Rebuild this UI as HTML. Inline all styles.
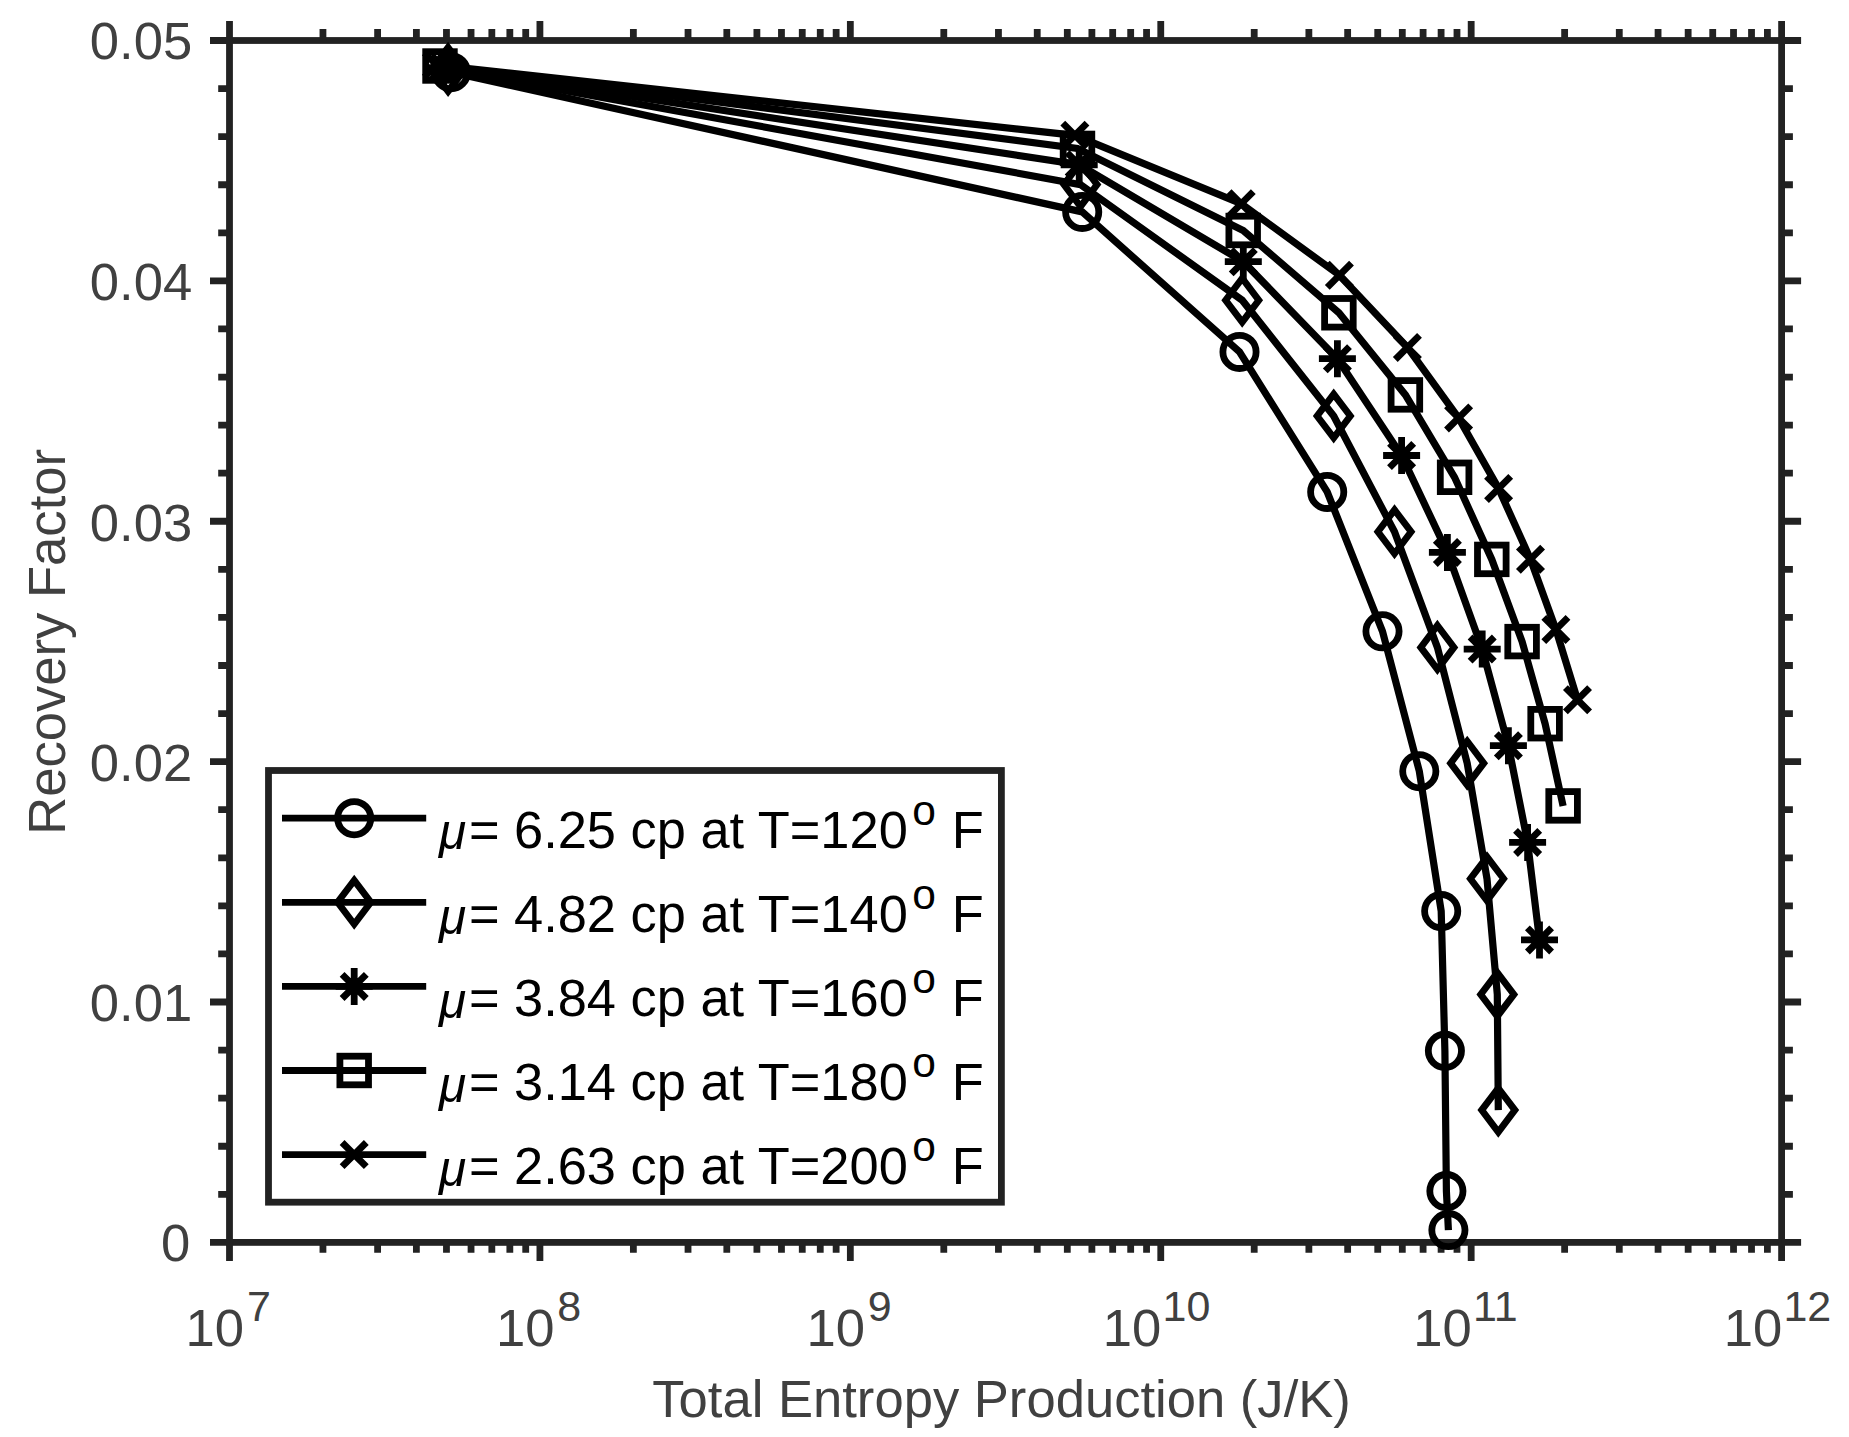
<!DOCTYPE html>
<html lang="en"><head><meta charset="utf-8"><title>Recovery Factor vs Total Entropy Production</title>
<style>html,body{margin:0;padding:0;background:#fff;}svg{display:block;}text{font-family:"Liberation Sans",sans-serif;}</style></head><body>
<svg width="1849" height="1437" viewBox="0 0 1849 1437">
<rect x="0" y="0" width="1849" height="1437" fill="#ffffff"/>
<g stroke="#222222" stroke-width="6.8" fill="none" stroke-linecap="butt">
<rect x="229.5" y="40.5" width="1552.10" height="1201.90"/>
<path d="M229.50 1242.4V1260.90M229.50 40.5V21.00M322.95 1242.4V1252.80M322.95 40.5V29.00M377.61 1242.4V1252.80M377.61 40.5V29.00M416.39 1242.4V1252.80M416.39 40.5V29.00M446.47 1242.4V1252.80M446.47 40.5V29.00M471.05 1242.4V1252.80M471.05 40.5V29.00M491.84 1242.4V1252.80M491.84 40.5V29.00M509.84 1242.4V1252.80M509.84 40.5V29.00M525.72 1242.4V1252.80M525.72 40.5V29.00M539.92 1242.4V1260.90M539.92 40.5V21.00M633.37 1242.4V1252.80M633.37 40.5V29.00M688.03 1242.4V1252.80M688.03 40.5V29.00M726.81 1242.4V1252.80M726.81 40.5V29.00M756.89 1242.4V1252.80M756.89 40.5V29.00M781.47 1242.4V1252.80M781.47 40.5V29.00M802.26 1242.4V1252.80M802.26 40.5V29.00M820.26 1242.4V1252.80M820.26 40.5V29.00M836.14 1242.4V1252.80M836.14 40.5V29.00M850.34 1242.4V1260.90M850.34 40.5V21.00M943.79 1242.4V1252.80M943.79 40.5V29.00M998.45 1242.4V1252.80M998.45 40.5V29.00M1037.23 1242.4V1252.80M1037.23 40.5V29.00M1067.31 1242.4V1252.80M1067.31 40.5V29.00M1091.89 1242.4V1252.80M1091.89 40.5V29.00M1112.68 1242.4V1252.80M1112.68 40.5V29.00M1130.68 1242.4V1252.80M1130.68 40.5V29.00M1146.56 1242.4V1252.80M1146.56 40.5V29.00M1160.76 1242.4V1260.90M1160.76 40.5V21.00M1254.21 1242.4V1252.80M1254.21 40.5V29.00M1308.87 1242.4V1252.80M1308.87 40.5V29.00M1347.65 1242.4V1252.80M1347.65 40.5V29.00M1377.73 1242.4V1252.80M1377.73 40.5V29.00M1402.31 1242.4V1252.80M1402.31 40.5V29.00M1423.10 1242.4V1252.80M1423.10 40.5V29.00M1441.10 1242.4V1252.80M1441.10 40.5V29.00M1456.98 1242.4V1252.80M1456.98 40.5V29.00M1471.18 1242.4V1260.90M1471.18 40.5V21.00M1564.63 1242.4V1252.80M1564.63 40.5V29.00M1619.29 1242.4V1252.80M1619.29 40.5V29.00M1658.07 1242.4V1252.80M1658.07 40.5V29.00M1688.15 1242.4V1252.80M1688.15 40.5V29.00M1712.73 1242.4V1252.80M1712.73 40.5V29.00M1733.52 1242.4V1252.80M1733.52 40.5V29.00M1751.52 1242.4V1252.80M1751.52 40.5V29.00M1767.40 1242.4V1252.80M1767.40 40.5V29.00M1781.60 1242.4V1260.90M1781.60 40.5V21.00M229.5 1242.40H210.00M1781.6 1242.40H1801.10M229.5 1194.32H218.20M1781.6 1194.32H1792.90M229.5 1146.25H218.20M1781.6 1146.25H1792.90M229.5 1098.17H218.20M1781.6 1098.17H1792.90M229.5 1050.10H218.20M1781.6 1050.10H1792.90M229.5 1002.02H210.00M1781.6 1002.02H1801.10M229.5 953.94H218.20M1781.6 953.94H1792.90M229.5 905.87H218.20M1781.6 905.87H1792.90M229.5 857.79H218.20M1781.6 857.79H1792.90M229.5 809.72H218.20M1781.6 809.72H1792.90M229.5 761.64H210.00M1781.6 761.64H1801.10M229.5 713.56H218.20M1781.6 713.56H1792.90M229.5 665.49H218.20M1781.6 665.49H1792.90M229.5 617.41H218.20M1781.6 617.41H1792.90M229.5 569.34H218.20M1781.6 569.34H1792.90M229.5 521.26H210.00M1781.6 521.26H1801.10M229.5 473.18H218.20M1781.6 473.18H1792.90M229.5 425.11H218.20M1781.6 425.11H1792.90M229.5 377.03H218.20M1781.6 377.03H1792.90M229.5 328.96H218.20M1781.6 328.96H1792.90M229.5 280.88H210.00M1781.6 280.88H1801.10M229.5 232.80H218.20M1781.6 232.80H1792.90M229.5 184.73H218.20M1781.6 184.73H1792.90M229.5 136.65H218.20M1781.6 136.65H1792.90M229.5 88.58H218.20M1781.6 88.58H1792.90M229.5 40.50H210.00M1781.6 40.50H1801.10"/>
</g>
<g fill="#404040" font-size="52.6">
<text x="190.3" y="1260.8" text-anchor="end">0</text>
<text x="192.2" y="1021.0" text-anchor="end">0.01</text>
<text x="192.2" y="781.0" text-anchor="end">0.02</text>
<text x="192.2" y="540.5" text-anchor="end">0.03</text>
<text x="192.2" y="299.8" text-anchor="end">0.04</text>
<text x="192.2" y="58.8" text-anchor="end">0.05</text>
<text x="185.60" y="1345.8">10</text><text x="246.90" y="1320.8" font-size="43">7</text>
<text x="496.02" y="1345.8">10</text><text x="557.32" y="1320.8" font-size="43">8</text>
<text x="806.44" y="1345.8">10</text><text x="867.74" y="1320.8" font-size="43">9</text>
<text x="1102.86" y="1345.8">10</text><text x="1162.56" y="1320.8" font-size="43">10</text>
<text x="1413.28" y="1345.8">10</text><text x="1472.98" y="1320.8" font-size="43">11</text>
<text x="1723.70" y="1345.8">10</text><text x="1783.40" y="1320.8" font-size="43">12</text>
<text x="1001.55" y="1417.1" text-anchor="middle">Total Entropy Production (J/K)</text>
<text transform="translate(65,641.85) rotate(-90)" text-anchor="middle">Recovery Factor</text>
</g>
<g stroke="#000000" stroke-width="6.8" fill="none" stroke-linejoin="miter" stroke-linecap="butt">
<polyline stroke-width="7.2" points="451.0,72.2 1082.2,211.9 1239.5,351.9 1327.2,491.9 1382.5,631.3 1419.3,771.2 1441.2,911.1 1444.9,1050.8 1446.4,1191.1 1448.4,1230.1"/>
<circle cx="451.0" cy="72.2" r="16.6"/>
<circle cx="1082.2" cy="211.9" r="16.6"/>
<circle cx="1239.5" cy="351.9" r="16.6"/>
<circle cx="1327.2" cy="491.9" r="16.6"/>
<circle cx="1382.5" cy="631.3" r="16.6"/>
<circle cx="1419.3" cy="771.2" r="16.6"/>
<circle cx="1441.2" cy="911.1" r="16.6"/>
<circle cx="1444.9" cy="1050.8" r="16.6"/>
<circle cx="1446.4" cy="1191.1" r="16.6"/>
<circle cx="1448.4" cy="1230.1" r="16.6"/>
<polyline stroke-width="7.2" points="448.1,69.4 1080.5,184.6 1242.2,300.2 1333.7,416.0 1394.5,531.8 1437.4,647.4 1467.2,763.2 1487.0,878.8 1497.3,994.5 1498.3,1110.1"/>
<path d="M448.1 47.50L464.70 69.4L448.1 91.30L431.50 69.4Z"/>
<path d="M1080.5 162.70L1097.10 184.6L1080.5 206.50L1063.90 184.6Z"/>
<path d="M1242.2 278.30L1258.80 300.2L1242.2 322.10L1225.60 300.2Z"/>
<path d="M1333.7 394.10L1350.30 416.0L1333.7 437.90L1317.10 416.0Z"/>
<path d="M1394.5 509.90L1411.10 531.8L1394.5 553.70L1377.90 531.8Z"/>
<path d="M1437.4 625.50L1454.00 647.4L1437.4 669.30L1420.80 647.4Z"/>
<path d="M1467.2 741.30L1483.80 763.2L1467.2 785.10L1450.60 763.2Z"/>
<path d="M1487.0 856.90L1503.60 878.8L1487.0 900.70L1470.40 878.8Z"/>
<path d="M1497.3 972.60L1513.90 994.5L1497.3 1016.40L1480.70 994.5Z"/>
<path d="M1498.3 1088.20L1514.90 1110.1L1498.3 1132.00L1481.70 1110.1Z"/>
<polyline stroke-width="7.2" points="443.5,67.6 1079.2,164.8 1243.3,261.7 1337.4,358.7 1401.6,455.5 1447.4,552.4 1482.2,649.1 1508.4,745.7 1527.6,842.4 1539.5,939.9"/>
<path d="M431.40 55.50L455.60 79.70M431.40 79.70L455.60 55.50M425.00 67.6H462.00M443.5 49.10V86.10"/>
<path d="M1067.10 152.70L1091.30 176.90M1067.10 176.90L1091.30 152.70M1060.70 164.8H1097.70M1079.2 146.30V183.30"/>
<path d="M1231.20 249.60L1255.40 273.80M1231.20 273.80L1255.40 249.60M1224.80 261.7H1261.80M1243.3 243.20V280.20"/>
<path d="M1325.30 346.60L1349.50 370.80M1325.30 370.80L1349.50 346.60M1318.90 358.7H1355.90M1337.4 340.20V377.20"/>
<path d="M1389.50 443.40L1413.70 467.60M1389.50 467.60L1413.70 443.40M1383.10 455.5H1420.10M1401.6 437.00V474.00"/>
<path d="M1435.30 540.30L1459.50 564.50M1435.30 564.50L1459.50 540.30M1428.90 552.4H1465.90M1447.4 533.90V570.90"/>
<path d="M1470.10 637.00L1494.30 661.20M1470.10 661.20L1494.30 637.00M1463.70 649.1H1500.70M1482.2 630.60V667.60"/>
<path d="M1496.30 733.60L1520.50 757.80M1496.30 757.80L1520.50 733.60M1489.90 745.7H1526.90M1508.4 727.20V764.20"/>
<path d="M1515.50 830.30L1539.70 854.50M1515.50 854.50L1539.70 830.30M1509.10 842.4H1546.10M1527.6 823.90V860.90"/>
<path d="M1527.40 927.80L1551.60 952.00M1527.40 952.00L1551.60 927.80M1521.00 939.9H1558.00M1539.5 921.40V958.40"/>
<polyline stroke-width="7.2" points="440.0,66.0 1077.5,148.4 1243.2,230.5 1338.9,312.8 1405.4,394.9 1454.6,477.3 1491.8,559.4 1522.1,641.6 1545.1,723.7 1563.1,805.9"/>
<rect x="425.70" y="51.70" width="28.6" height="28.6"/>
<rect x="1063.20" y="134.10" width="28.6" height="28.6"/>
<rect x="1228.90" y="216.20" width="28.6" height="28.6"/>
<rect x="1324.60" y="298.50" width="28.6" height="28.6"/>
<rect x="1391.10" y="380.60" width="28.6" height="28.6"/>
<rect x="1440.30" y="463.00" width="28.6" height="28.6"/>
<rect x="1477.50" y="545.10" width="28.6" height="28.6"/>
<rect x="1507.80" y="627.30" width="28.6" height="28.6"/>
<rect x="1530.80" y="709.40" width="28.6" height="28.6"/>
<rect x="1548.80" y="791.60" width="28.6" height="28.6"/>
<polyline stroke-width="7.2" points="436.5,65.0 1074.9,135.3 1241.2,203.7 1339.4,275.2 1407.4,347.4 1458.6,417.9 1498.6,488.5 1530.5,559.3 1555.9,629.5 1577.5,699.7"/>
<path d="M424.40 52.90L448.60 77.10M424.40 77.10L448.60 52.90"/>
<path d="M1062.80 123.20L1087.00 147.40M1062.80 147.40L1087.00 123.20"/>
<path d="M1229.10 191.60L1253.30 215.80M1229.10 215.80L1253.30 191.60"/>
<path d="M1327.30 263.10L1351.50 287.30M1327.30 287.30L1351.50 263.10"/>
<path d="M1395.30 335.30L1419.50 359.50M1395.30 359.50L1419.50 335.30"/>
<path d="M1446.50 405.80L1470.70 430.00M1446.50 430.00L1470.70 405.80"/>
<path d="M1486.50 476.40L1510.70 500.60M1486.50 500.60L1510.70 476.40"/>
<path d="M1518.40 547.20L1542.60 571.40M1518.40 571.40L1542.60 547.20"/>
<path d="M1543.80 617.40L1568.00 641.60M1543.80 641.60L1568.00 617.40"/>
<path d="M1565.40 687.60L1589.60 711.80M1565.40 711.80L1589.60 687.60"/>
</g>
<rect x="268.5" y="770.5" width="732.90" height="431.70" fill="#ffffff" stroke="#222222" stroke-width="6.8"/>
<g stroke="#000000" stroke-width="6.8" fill="none">
<path d="M282 818.20H426.2"/>
<circle cx="354.2" cy="818.2" r="16.6"/>
<path d="M282 902.30H426.2"/>
<path d="M354.2 880.40L370.80 902.3L354.2 924.20L337.60 902.3Z"/>
<path d="M282 986.40H426.2"/>
<path d="M342.10 974.30L366.30 998.50M342.10 998.50L366.30 974.30M335.70 986.4H372.70M354.2 967.90V1004.90"/>
<path d="M282 1070.50H426.2"/>
<rect x="339.90" y="1056.20" width="28.6" height="28.6"/>
<path d="M282 1154.60H426.2"/>
<path d="M342.10 1142.50L366.30 1166.70M342.10 1166.70L366.30 1142.50"/>
</g>
<g fill="#000000" font-size="52.4">
<text x="438.9" y="849.40" font-size="49.5" font-style="italic">μ</text><text x="468.9" y="848.00">= 6.25 cp at T=120<tspan font-size="42.5" dx="4.4" dy="-23.5">o</tspan><tspan dx="1.5" dy="23.5"> F</tspan></text>
<text x="438.9" y="933.50" font-size="49.5" font-style="italic">μ</text><text x="468.9" y="932.10">= 4.82 cp at T=140<tspan font-size="42.5" dx="4.4" dy="-23.5">o</tspan><tspan dx="1.5" dy="23.5"> F</tspan></text>
<text x="438.9" y="1017.60" font-size="49.5" font-style="italic">μ</text><text x="468.9" y="1016.20">= 3.84 cp at T=160<tspan font-size="42.5" dx="4.4" dy="-23.5">o</tspan><tspan dx="1.5" dy="23.5"> F</tspan></text>
<text x="438.9" y="1101.70" font-size="49.5" font-style="italic">μ</text><text x="468.9" y="1100.30">= 3.14 cp at T=180<tspan font-size="42.5" dx="4.4" dy="-23.5">o</tspan><tspan dx="1.5" dy="23.5"> F</tspan></text>
<text x="438.9" y="1185.80" font-size="49.5" font-style="italic">μ</text><text x="468.9" y="1184.40">= 2.63 cp at T=200<tspan font-size="42.5" dx="4.4" dy="-23.5">o</tspan><tspan dx="1.5" dy="23.5"> F</tspan></text>
</g>
</svg></body></html>
